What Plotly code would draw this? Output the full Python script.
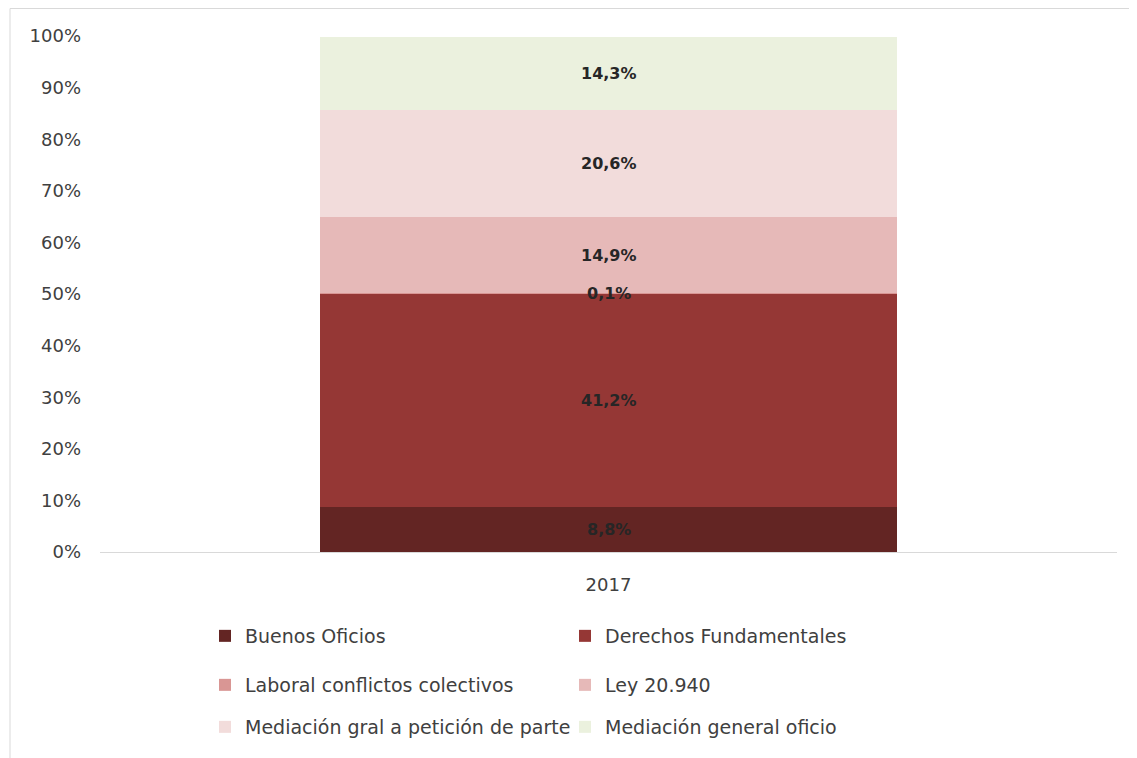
import plotly.graph_objects as go

categories = ["2017"]
series_names = [
    "Buenos Oficios",
    "Derechos Fundamentales",
    "Laboral conflictos colectivos",
    "Ley 20.940",
    "Mediación gral a petición de parte",
    "Mediación general oficio",
]
series_values = [
    [8.8],
    [41.2],
    [0.1],
    [14.9],
    [20.6],
    [14.3],
]
series_colors = ["#632523", "#953735", "#d99694", "#e6b9b8", "#f2dcdb", "#ebf1de"]
tick_vals = [0, 10, 20, 30, 40, 50, 60, 70, 80, 90, 100]
tick_text = [f"{v}%" for v in tick_vals]

FONT = "DejaVu Sans"
OFF = 8  # page body margin offset
W, H = 1137 - OFF, 758 - OFF
# plot area in reference pixels: x 100..1117, y 36..552
L, R, T, B = 100 - OFF, 1137 - 1117, 36 - OFF, 758 - 552
pw, ph = W - L - R, H - T - B


def px(xref):
    return (xref - OFF - L) / pw


def py(yref):
    return (H - B - (yref - OFF)) / ph


legend_map = ["legend", "legend", "legend2", "legend2", "legend3", "legend3"]

fig = go.Figure()
for name, vals, col, lg in zip(series_names, series_values, series_colors, legend_map):
    fig.add_trace(go.Bar(
        x=categories, y=vals, name=name,
        marker=dict(color=col, line=dict(width=0)),
        legend=lg,
        hoverinfo="skip",
    ))

# data labels at segment midpoints (category index on x)
annotations = []
for ci, cat in enumerate(categories):
    base = 0.0
    for vals in series_values:
        v = vals[ci]
        annotations.append(dict(
            x=ci, y=base + v / 2, xref="x", yref="y",
            text="<b>" + f"{v:.1f}".replace(".", ",") + "%</b>",
            showarrow=False, yanchor="middle", xanchor="center",
            font=dict(family=FONT, size=16, color="#262626"),
        ))
        base += v

leg_common = dict(
    orientation="h", xanchor="left", yanchor="middle",
    x=(197 - L) / pw, entrywidth=315, entrywidthmode="pixels",
    font=dict(family=FONT, size=19, color="#404040"),
    bgcolor="rgba(0,0,0,0)", itemclick=False, itemdoubleclick=False,
    traceorder="normal",
)

fig.update_layout(
    width=W, height=H,
    margin=dict(l=L, r=R, t=T, b=B, autoexpand=False),
    barmode="stack", bargap=0.432,
    separators=",.",
    plot_bgcolor="white", paper_bgcolor="white",
    font=dict(family=FONT, size=18, color="#404040"),
    xaxis=dict(
        type="category", range=[-0.5, 0.5],
        showline=True, linecolor="#d9d9d9", linewidth=1,
        ticks="", tickfont=dict(family=FONT, size=18, color="#404040"),
        ticklabelstandoff=16,
        showgrid=False, zeroline=False,
    ),
    yaxis=dict(
        range=[0, 100], tickvals=tick_vals, ticktext=tick_text,
        showgrid=False, zeroline=False, showline=False, ticks="",
        ticklabelstandoff=18,
        tickfont=dict(family=FONT, size=18, color="#404040"),
    ),
    legend=dict(**leg_common, y=py(636)),
    legend2=dict(**leg_common, y=py(685)),
    legend3=dict(**leg_common, y=py(727)),
    annotations=annotations,
    shapes=[dict(
        type="rect", xref="paper", yref="paper",
        x0=px(10), x1=px(1135), y0=py(770), y1=(H - B - 0.5) / ph,
        line=dict(color="#d9d9d9", width=1), fillcolor="rgba(0,0,0,0)", layer="below",
    )],
)

fig.write_html("out.html")
